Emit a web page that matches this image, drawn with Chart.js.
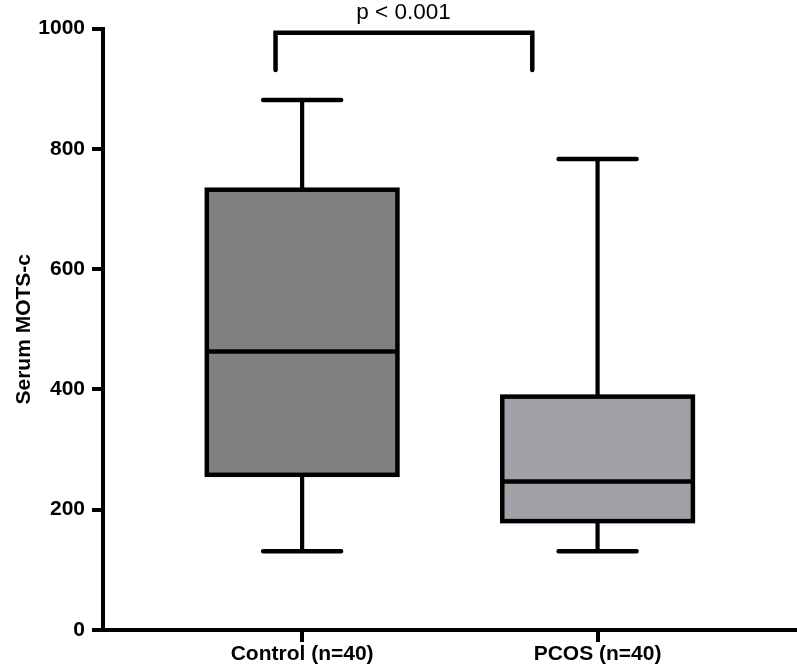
<!DOCTYPE html>
<html>
<head>
<meta charset="utf-8">
<script src="https://cdn.jsdelivr.net/npm/chart.js@4.4.1/dist/chart.umd.min.js"></script>
<style>
  html, body { margin: 0; padding: 0; background: #fff; }
  #wrap { width: 797px; height: 670px; }
</style>
</head>
<body>
<div id="wrap"><canvas id="c" width="797" height="670"></canvas></div>
<script>
// ---- data ----
const categories = ['Control (n=40)', 'PCOS (n=40)'];
const whiskerMin = [131, 131];
const q1Values   = [258, 181];
const medians    = [463, 247];
const q3Values   = [732, 388];
const whiskerMax = [881, 783];
const yTickValues = [0, 200, 400, 600, 800, 1000];
const pLabel = 'p < 0.001';

// ---- styling / placement constants ----
const boxFills = ['#808080', '#a1a0a6'];
const FONT = "'Liberation Sans', Arial, Helvetica, sans-serif";
const boxHalf = 0.3226;     // in x-scale units
const capHalf = 0.132;      // in x-scale units
const bracket = { x1: 0.910, x2: 1.779, top: 993, bottom: 931, textX: 1.343, textY: 1016.5 };

Chart.defaults.color = '#000';
Chart.defaults.font.family = FONT;

const boxPlugin = {
  id: 'boxplot',
  afterDatasetsDraw(chart) {
    const ctx = chart.ctx;
    const xs = chart.scales.x, ys = chart.scales.y;
    ctx.save();
    ctx.strokeStyle = '#000';
    for (let i = 0; i < categories.length; i++) {
      const pos = i + 1;
      const cx = xs.getPixelForValue(pos);
      const l = xs.getPixelForValue(pos - boxHalf);
      const r = xs.getPixelForValue(pos + boxHalf);
      const cl = xs.getPixelForValue(pos - capHalf);
      const cr = xs.getPixelForValue(pos + capHalf);
      const yMin = ys.getPixelForValue(whiskerMin[i]);
      const yQ1 = ys.getPixelForValue(q1Values[i]);
      const yMed = ys.getPixelForValue(medians[i]);
      const yQ3 = ys.getPixelForValue(q3Values[i]);
      const yMax = ys.getPixelForValue(whiskerMax[i]);

      // whiskers
      ctx.lineWidth = 4.2;
      ctx.lineCap = 'butt';
      ctx.beginPath();
      ctx.moveTo(cx, yQ3); ctx.lineTo(cx, yMax);
      ctx.moveTo(cx, yQ1); ctx.lineTo(cx, yMin);
      ctx.stroke();
      // caps
      ctx.lineCap = 'round';
      ctx.lineWidth = 4.5;
      ctx.beginPath();
      ctx.moveTo(cl, yMax); ctx.lineTo(cr, yMax);
      ctx.moveTo(cl, yMin); ctx.lineTo(cr, yMin);
      ctx.stroke();

      // box
      ctx.fillStyle = boxFills[i];
      ctx.fillRect(l, yQ3, r - l, yQ1 - yQ3);
      ctx.lineCap = 'butt';
      ctx.lineJoin = 'miter';
      ctx.lineWidth = 4.5;
      ctx.strokeRect(l, yQ3, r - l, yQ1 - yQ3);
      // median
      ctx.lineWidth = 4.5;
      ctx.beginPath();
      ctx.moveTo(l, yMed); ctx.lineTo(r, yMed);
      ctx.stroke();
    }

    // significance bracket
    const bx1 = xs.getPixelForValue(bracket.x1);
    const bx2 = xs.getPixelForValue(bracket.x2);
    const bt = ys.getPixelForValue(bracket.top);
    const bb = ys.getPixelForValue(bracket.bottom);
    ctx.lineWidth = 4.5;
    ctx.lineCap = 'round';
    ctx.lineJoin = 'miter';
    ctx.beginPath();
    ctx.moveTo(bx1, bb); ctx.lineTo(bx1, bt); ctx.lineTo(bx2, bt); ctx.lineTo(bx2, bb);
    ctx.stroke();

    ctx.fillStyle = '#000';
    ctx.font = '22.5px ' + FONT;
    ctx.textAlign = 'center';
    ctx.textBaseline = 'alphabetic';
    ctx.fillText(pLabel, xs.getPixelForValue(bracket.textX), ys.getPixelForValue(bracket.textY));
    ctx.restore();
  }
};

new Chart(document.getElementById('c'), {
  type: 'scatter',
  data: {
    datasets: [{
      label: 'median',
      data: medians.map((m, i) => ({ x: i + 1, y: m })),
      pointRadius: 0,
      pointHoverRadius: 0,
      showLine: false
    }]
  },
  options: {
    responsive: false,
    animation: false,
    devicePixelRatio: 1,
    layout: { padding: { top: 28.5, right: 0, bottom: 0, left: 0 } },
    plugins: { legend: { display: false }, tooltip: { enabled: false } },
    scales: {
      x: {
        type: 'linear',
        min: 0.326,
        max: 2.675,
        afterBuildTicks: (scale) => { scale.ticks = categories.map((c, i) => ({ value: i + 1 })); },
        afterFit: (scale) => { scale.height = 40; },
        border: { display: true, color: '#000', width: 4 },
        grid: { display: true, drawOnChartArea: false, drawTicks: true, tickLength: 12, tickWidth: 4, tickColor: '#000', lineWidth: 4, color: '#000' },
        ticks: {
          autoSkip: false,
          maxRotation: 0,
          minRotation: 0,
          padding: 2,
          color: '#000',
          font: { size: 21, weight: 'bold', family: FONT, lineHeight: 1 },
          callback: (v, i) => categories[i]
        }
      },
      y: {
        type: 'linear',
        min: 0,
        max: 1000,
        afterBuildTicks: (scale) => { scale.ticks = yTickValues.map(v => ({ value: v })); },
        afterFit: (scale) => { scale.width = 103; },
        border: { display: true, color: '#000', width: 4 },
        grid: { display: true, drawOnChartArea: false, drawTicks: true, tickLength: 11, tickWidth: 4, tickColor: '#000', lineWidth: 4, color: '#000' },
        ticks: {
          padding: 7,
          color: '#000',
          font: { size: 21, weight: 'bold', family: FONT },
          callback: (v) => String(v)
        },
        title: {
          display: true,
          text: 'Serum MOTS-c',
          color: '#000',
          font: { size: 21, weight: 'bold', family: FONT },
          padding: { top: 12, bottom: 0 }
        }
      }
    }
  },
  plugins: [boxPlugin]
});
</script>
</body>
</html>
